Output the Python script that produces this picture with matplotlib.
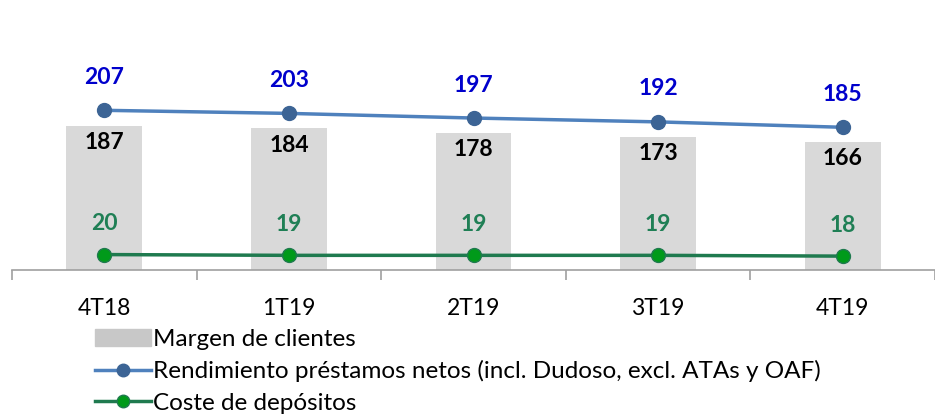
import numpy as np
import matplotlib.pyplot as plt
from matplotlib.patches import Patch
from matplotlib.lines import Line2D

plt.rcParams['font.family'] = ['Lato', 'DejaVu Sans']

# data
quarters = ['4T18', '1T19', '2T19', '3T19', '4T19']
margen = [187, 184, 178, 173, 166]
rendimiento = [207, 203, 197, 192, 185]
coste = [20, 19, 19, 19, 18]

fig = plt.figure(figsize=(9.35, 4.16), dpi=100)
ax = fig.add_axes([12 / 935, 1 - 270 / 416, 1 - 12 / 935, 270 / 416])

x = np.arange(len(quarters))
ax.bar(x, margen, width=0.41, color='#d9d9d9', zorder=1)
ax.plot(x, rendimiento, color='#4f81bd', lw=2.5, marker='o', ms=10,
        mfc='#3c6495', mec='#3c6495', zorder=3)
ax.plot(x, coste, color='#1f7a4f', lw=2.5, marker='o', ms=10,
        mfc='#009a1a', mec='#1f7a4f', zorder=3)

for xi, v in zip(x, margen):
    ax.annotate(str(v), (xi, v), xytext=(0, -17), textcoords='offset pixels',
                ha='center', va='center', fontsize=16.5, fontweight='bold', color='black')
for xi, v in zip(x, rendimiento):
    ax.annotate(str(v), (xi, v), xytext=(0, 33), textcoords='offset pixels',
                ha='center', va='center', fontsize=16.5, fontweight='bold', color='#0000cc')
for xi, v in zip(x, coste):
    ax.annotate(str(v), (xi, v), xytext=(0, 31), textcoords='offset pixels',
                ha='center', va='center', fontsize=16.5, fontweight='bold', color='#1f7f55')

ax.set_xlim(-0.5, 4.47)
ax.set_ylim(0, 350)
for s in ['top', 'right', 'left']:
    ax.spines[s].set_visible(False)
ax.spines['bottom'].set_color('#a0a0a0')
ax.spines['bottom'].set_linewidth(1.2)
ax.set_yticks([])
ax.set_xticks(x)
ax.set_xticklabels(quarters, fontsize=16.5)
ax.set_xticks(np.arange(-0.5, 4.6, 1), minor=True)
ax.tick_params(axis='x', which='major', length=0, pad=20)
ax.tick_params(axis='x', which='minor', length=7, color='#a0a0a0', width=1.2, direction='out')

handles = [
    Patch(color='#c8c8c8'),
    Line2D([], [], color='#4f81bd', lw=2.5, marker='o', ms=9, mfc='#3c6495', mec='#3c6495'),
    Line2D([], [], color='#1f7a4f', lw=2.5, marker='o', ms=9, mfc='#009a1a', mec='#1f7a4f'),
]
labels = ['Margen de clientes',
          'Rendimiento préstamos netos (incl. Dudoso, excl. ATAs y OAF)',
          'Coste de depósitos']
fig.legend(handles, labels, loc='upper left', bbox_to_anchor=(95 / 935, 1 - 329 / 416),
           frameon=False, fontsize=17.5, handlelength=2.3, handletextpad=0.1,
           labelspacing=0.42, borderaxespad=0, borderpad=0)

fig.savefig('out.png', dpi=100)
